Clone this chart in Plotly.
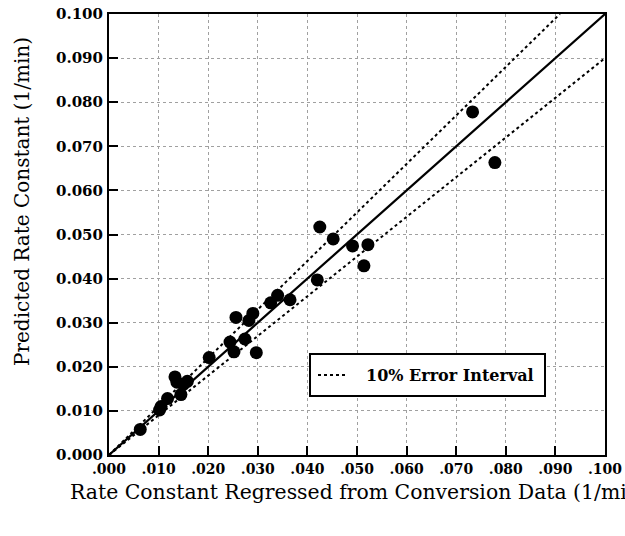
import plotly.graph_objects as go

# Data
regressed_k = [0.0063, 0.0102, 0.0105, 0.0118, 0.0133, 0.0137, 0.0145, 0.0150, 0.0158,
               0.0202, 0.0244, 0.0252, 0.0256, 0.0274, 0.0282, 0.0290, 0.0297, 0.0326,
               0.0340, 0.0365, 0.0420, 0.0425, 0.0452, 0.0491, 0.0514, 0.0522, 0.0733,
               0.0778]
predicted_k = [0.0058, 0.0102, 0.0110, 0.0128, 0.0177, 0.0165, 0.0137, 0.0160, 0.0167,
               0.0221, 0.0256, 0.0234, 0.0312, 0.0263, 0.0305, 0.0321, 0.0232, 0.0345,
               0.0362, 0.0352, 0.0397, 0.0517, 0.0490, 0.0474, 0.0429, 0.0477, 0.0778,
               0.0663]
line_x = [0.0, 0.100]
parity_y = [0.0, 0.100]
upper_x = [0.0, 0.100 / 1.1]
upper_y = [0.0, 0.100]
lower_x = [0.0, 0.100]
lower_y = [0.0, 0.090]

tick_vals = [0.00, 0.01, 0.02, 0.03, 0.04, 0.05, 0.06, 0.07, 0.08, 0.09, 0.10]
x_tick_text = [".000", ".010", ".020", ".030", ".040", ".050", ".060", ".070", ".080", ".090", ".100"]
y_tick_text = ["0.000", "0.010", "0.020", "0.030", "0.040", "0.050", "0.060", "0.070", "0.080", "0.090", "0.100"]
legend_label = "10% Error Interval"
x_title = "Rate Constant Regressed from Conversion Data (1/min)"
y_title = "Predicted Rate Constant (1/min)"

FONT = "DejaVu Serif"

fig = go.Figure()
fig.add_trace(go.Scatter(x=upper_x, y=upper_y, mode="lines",
                         line=dict(color="black", width=2, dash="dot"), showlegend=False))
fig.add_trace(go.Scatter(x=lower_x, y=lower_y, mode="lines",
                         line=dict(color="black", width=2, dash="dot"), showlegend=False))
fig.add_trace(go.Scatter(x=line_x, y=parity_y, mode="lines",
                         line=dict(color="black", width=2.2), showlegend=False))
fig.add_trace(go.Scatter(x=regressed_k, y=predicted_k, mode="markers",
                         marker=dict(color="black", size=13), showlegend=False))

axis_common = dict(
    range=[0, 0.1], tickvals=tick_vals, showgrid=True,
    gridcolor="#a0a0a0", griddash="dot", gridwidth=1,
    showline=True, linecolor="black", linewidth=2, mirror=True,
    ticks="inside", ticklen=9, tickwidth=1.5, tickcolor="black",
    zeroline=False, ticklabeloverflow="allow", automargin=False,
)
fig.update_xaxes(**axis_common, ticktext=x_tick_text,
                 tickfont=dict(family=FONT, size=14, color="black", weight="bold"))
fig.update_yaxes(**axis_common, ticktext=y_tick_text, ticklabelstandoff=1,
                 tickfont=dict(family=FONT, size=15, color="black", weight="bold"))

# legend box drawn manually
L, R, T, B = 310, 545, 354, 396
W, H = 625, 536
ml, mr, mt, mb = 109, 20, 14, 81
pw, ph = W - ml - mr, H - mt - mb
def px(xp):
    return (xp - ml) / pw
def py(yp):
    return (H - mb - yp) / ph

fig.add_shape(type="rect", xref="paper", yref="paper", x0=px(L), x1=px(R), y0=py(B), y1=py(T),
              line=dict(color="black", width=2), fillcolor="white", layer="above")
fig.add_shape(type="line", xref="paper", yref="paper", x0=px(318), x1=px(346),
              y0=py(375), y1=py(375), line=dict(color="black", width=2, dash="dot"), layer="above")
fig.add_annotation(xref="paper", yref="paper", x=px(364), y=py(375), xanchor="left", yanchor="middle",
                   text=legend_label, showarrow=False,
                   font=dict(family=FONT, size=16, color="black", weight="bold"))

fig.add_annotation(xref="paper", yref="paper", x=px(68), y=py(492), xanchor="left", yanchor="middle",
                   text=x_title, showarrow=False, font=dict(family=FONT, size=20.4, color="black"))
fig.add_annotation(xref="paper", yref="paper", x=px(22), y=py(202), xanchor="center", yanchor="middle",
                   text=y_title, showarrow=False, textangle=-90,
                   font=dict(family=FONT, size=20, color="black"))

fig.update_layout(
    width=W, height=H,
    margin=dict(l=ml, r=mr, t=mt, b=mb, autoexpand=False),
    paper_bgcolor="white", plot_bgcolor="white",
    showlegend=False,
)
fig.write_html("out.html")
